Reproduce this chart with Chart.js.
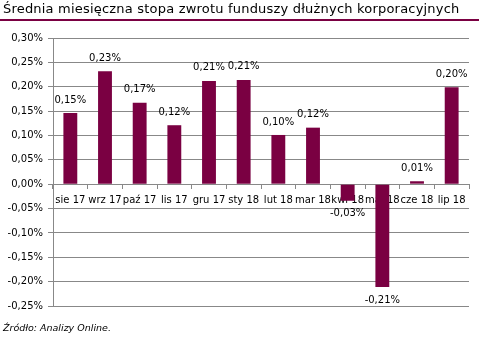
<!DOCTYPE html>
<html>
<head>
<meta charset="utf-8">
<script src="https://cdn.jsdelivr.net/npm/chart.js@4/dist/chart.umd.min.js"></script>
<style>
  html, body { margin: 0; padding: 0; background: #fff; }
  #wrap { position: relative; width: 479px; height: 342px; overflow: hidden; }
  #title {
    position: absolute; left: 3px; top: 1px; letter-spacing: 0.2px;
    font: 13px "DejaVu Sans", sans-serif; color: #000; white-space: nowrap;
  }
  #rule { position: absolute; left: 0; top: 19px; width: 479px; height: 2px; background: #7a0042; }
  #source {
    position: absolute; left: 3px; top: 322px;
    font: italic 9.5px "DejaVu Sans", sans-serif; color: #000; white-space: nowrap;
  }
  canvas { position: absolute; left: 0; top: 0; }
</style>
</head>
<body>
<div id="wrap">
  <canvas id="chart" width="479" height="342"></canvas>
  <div id="title">Średnia miesięczna stopa zwrotu funduszy dłużnych korporacyjnych</div>
  <div id="rule"></div>
  <div id="source">Źródło: Analizy Online.</div>
</div>
<script>
// Months (Aug 2017 – Jul 2018)
const months = ['sie 17', 'wrz 17', 'paź 17', 'lis 17', 'gru 17', 'sty 18',
                'lut 18', 'mar 18', 'kwi 18', 'maj 18', 'cze 18', 'lip 18'];
// Average monthly return, in percent
const returns = [0.146, 0.232, 0.167, 0.121, 0.212, 0.214,
                 0.101, 0.116, -0.034, -0.211, 0.006, 0.199];
// Value axis range and step, in percent
const yMin = -0.25;
const yMax = 0.30;
const yStep = 0.05;

const fmt = v => v.toFixed(2).replace('.', ',') + '%';
const font = 'DejaVu Sans';

// Value labels above (or below, for negatives) each bar
const barLabels = {
  id: 'barLabels',
  afterDatasetsDraw(chart) {
    const ctx = chart.ctx;
    const meta = chart.getDatasetMeta(0);
    ctx.save();
    ctx.font = '10px "' + font + '"';
    ctx.fillStyle = '#000';
    ctx.textAlign = 'center';
    ctx.textBaseline = 'middle';
    meta.data.forEach((bar, i) => {
      const v = chart.data.datasets[0].data[i];
      const y = v >= 0 ? bar.y - 13 : bar.y + 13;
      ctx.fillText(fmt(v), bar.x, y);
    });
    ctx.restore();
  }
};

new Chart(document.getElementById('chart'), {
  type: 'bar',
  data: {
    labels: months,
    datasets: [{
      data: returns,
      backgroundColor: '#7a0042',
      borderWidth: 0,
      categoryPercentage: 1,
      barPercentage: 0.4
    }]
  },
  options: {
    responsive: false,
    animation: false,
    events: [],
    layout: { padding: { top: 38, bottom: 36, left: 0, right: 10 } },
    plugins: { legend: { display: false }, tooltip: { enabled: false } },
    scales: {
      x: {
        position: { y: 0 },
        z: 1,
        offset: true,
        grid: {
          offset: true,
          drawOnChartArea: false,
          drawTicks: true,
          tickLength: 4,
          color: '#888'
        },
        border: { display: true, color: '#888', width: 1 },
        ticks: {
          color: '#000',
          font: { family: font, size: 10 },
          padding: 6,
          maxRotation: 0,
          autoSkip: false
        }
      },
      y: {
        min: yMin,
        max: yMax,
        afterFit(scale) { scale.width = 53; },
        grid: { color: '#888', tickLength: 5, drawTicks: true },
        border: { display: true, color: '#888', width: 1 },
        ticks: {
          stepSize: yStep,
          color: '#000',
          font: { family: font, size: 10 },
          padding: 5,
          callback: v => fmt(v)
        }
      }
    }
  },
  plugins: [barLabels]
});
</script>
</body>
</html>
